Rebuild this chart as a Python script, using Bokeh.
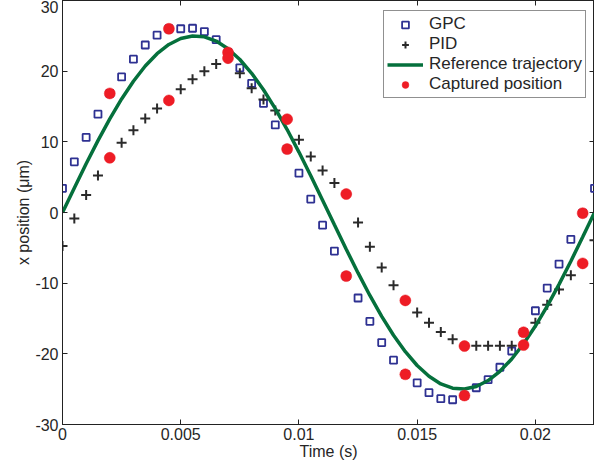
from bokeh.plotting import figure
from bokeh.models import Range1d, FixedTicker, LinearAxis, CustomJSTickFormatter, Spacer
from bokeh.layouts import row
from bokeh.embed import file_html
from bokeh.resources import INLINE

# sample times (s)
time = [0.0, 0.0005, 0.001, 0.0015, 0.002, 0.0025, 0.003, 0.0035, 0.004, 0.0045,
        0.005, 0.0055, 0.006, 0.0065, 0.007, 0.0075, 0.008, 0.0085, 0.009, 0.0095,
        0.01, 0.0105, 0.011, 0.0115, 0.012, 0.0125, 0.013, 0.0135, 0.014, 0.0145,
        0.015, 0.0155, 0.016, 0.0165, 0.017, 0.0175, 0.018, 0.0185, 0.019, 0.0195,
        0.02, 0.0205, 0.021, 0.0215, 0.022, 0.0225]

gpc = [3.42, 7.17, 10.63, 13.91, 16.85, 19.18, 21.7, 23.7, 25.1, 26.0,
       26.0, 26.07, 25.6, 24.45, 22.65, 20.47, 18.28, 15.43, 12.39, 8.97,
       5.56, 1.9, -1.8, -5.46, -9.0, -12.1, -15.4, -18.4, -20.9, -22.9,
       -24.1, -25.5, -26.35, -26.5, -25.9, -24.8, -23.65, -21.9, -19.6, -16.95,
       -13.9, -10.7, -7.3, -3.8, -0.1, 3.42]

pid = [-4.75, -0.85, 2.47, 5.22, 7.74, 9.88, 11.63, 13.3, 14.72, 15.86,
       17.43, 18.85, 20.0, 21.03, 21.84, 19.7, 17.57, 16.0, 14.43, 13.2,
       10.3, 7.93, 5.94, 4.18, 2.61, -1.42, -4.84, -7.79, -10.3, -12.44,
       -14.15, -15.6, -16.9, -17.95, -18.9, -18.85, -18.85, -18.85, -18.85, -18.76,
       -15.6, -13.06, -10.9, -8.88, -7.2, -3.94]

reference = [0.0, 3.48, 6.89, 10.17, 13.25, 16.07, 18.58, 20.73, 22.47, 23.78,
             24.62, 24.98, 24.86, 24.26, 23.18, 21.65, 19.70, 17.37, 14.69, 11.74,
             8.55, 5.20, 1.74, -1.74, -5.20, -8.55, -11.74, -14.69, -17.37, -19.70,
             -21.65, -23.18, -24.26, -24.86, -24.98, -24.62, -23.78, -22.47, -20.73, -18.58,
             -16.07, -13.25, -10.17, -6.89, -3.48, 0.0]

captured_time = [0.002, 0.002, 0.0045, 0.0045, 0.007, 0.007, 0.0095, 0.0095, 0.012,
                 0.012, 0.0145, 0.0145, 0.017, 0.017, 0.0195, 0.0195, 0.022, 0.022]
captured_value = [16.85, 7.74, 26.0, 15.86, 22.65, 21.84, 13.2, 8.97, 2.61,
                  -9.0, -12.44, -22.9, -18.9, -25.9, -16.95, -18.76, -0.1, -7.2]

x_ticks = [0, 0.005, 0.01, 0.015, 0.02]
x_tick_labels = ["0", "0.005", "0.01", "0.015", "0.02"]
y_ticks = [-30, -20, -10, 0, 10, 20, 30]
y_tick_labels = ["-30", "-20", "-10", "0", "10", "20", "30"]

FONT = "Liberation Sans"
TXT = "#262626"
AX = "#222222"

p = figure(width=582, height=462,
           x_range=Range1d(0, 0.0225), y_range=Range1d(-30, 30),
           output_backend="svg", toolbar_location=None,
           min_border_left=0, min_border_right=0, min_border_top=0, min_border_bottom=0)

p.xgrid.visible = False
p.ygrid.visible = False
p.outline_line_color = AX
p.background_fill_color = "white"

p.scatter(time, gpc, marker="square", size=7, fill_color=None,
          line_color="#2E3192", line_width=1.8, legend_label="GPC")
p.scatter(time, pid, marker="cross", size=10, line_color="#2a2a2a",
          line_width=2, legend_label="PID")
p.line(time, reference, line_color="#05703C", line_width=3.5,
       legend_label="Reference trajectory")
p.scatter(captured_time, captured_value, marker="circle", size=11,
          fill_color="#EE1C25", line_color="#EE1C25", line_width=0.5,
          legend_label="Captured position")

def style_axis(ax, ticks):
    ax.ticker = FixedTicker(ticks=ticks)
    ax.minor_tick_line_color = None
    ax.major_tick_in = 5
    ax.major_tick_out = 0
    ax.axis_line_color = AX
    ax.major_tick_line_color = AX
    ax.axis_line_width = 1
    ax.major_label_text_font = FONT
    ax.major_label_text_font_size = "16px"
    ax.major_label_text_color = TXT
    ax.axis_label_text_font = FONT
    ax.axis_label_text_font_size = "16px"
    ax.axis_label_text_font_style = "normal"
    ax.axis_label_text_color = TXT

xa = p.xaxis[0]
style_axis(xa, x_ticks)
xa.major_label_overrides = {t: l for t, l in zip(x_ticks, x_tick_labels)}
xa.axis_label = "Time (s)"
xa.major_label_standoff = 3
xa.axis_label_standoff = 0

ya = p.yaxis[0]
style_axis(ya, y_ticks)
ya.major_label_overrides = {t: l for t, l in zip(y_ticks, y_tick_labels)}
ya.axis_label = "x position (μm)"
ya.major_label_standoff = 4
ya.axis_label_standoff = 0

top = LinearAxis(formatter=CustomJSTickFormatter(code="return '';"))
style_axis(top, x_ticks)
top.major_label_standoff = 0
p.add_layout(top, "above")
right = LinearAxis(formatter=CustomJSTickFormatter(code="return '';"))
style_axis(right, y_ticks)
right.major_label_standoff = 0
p.add_layout(right, "right")

lg = p.legend[0]
lg.location = (321, 326)
lg.margin = 0
lg.padding = 3
lg.spacing = -2
lg.glyph_width = 36
lg.glyph_height = 17
lg.label_height = 17
lg.label_standoff = 6
lg.label_text_font = FONT
lg.label_text_font_size = "17px"
lg.label_text_color = TXT
lg.border_line_color = AX
lg.border_line_width = 1
lg.background_fill_alpha = 1.0

layout = row(Spacer(width=12, height=462), p)
open("out.html", "w").write(file_html(layout, INLINE))
